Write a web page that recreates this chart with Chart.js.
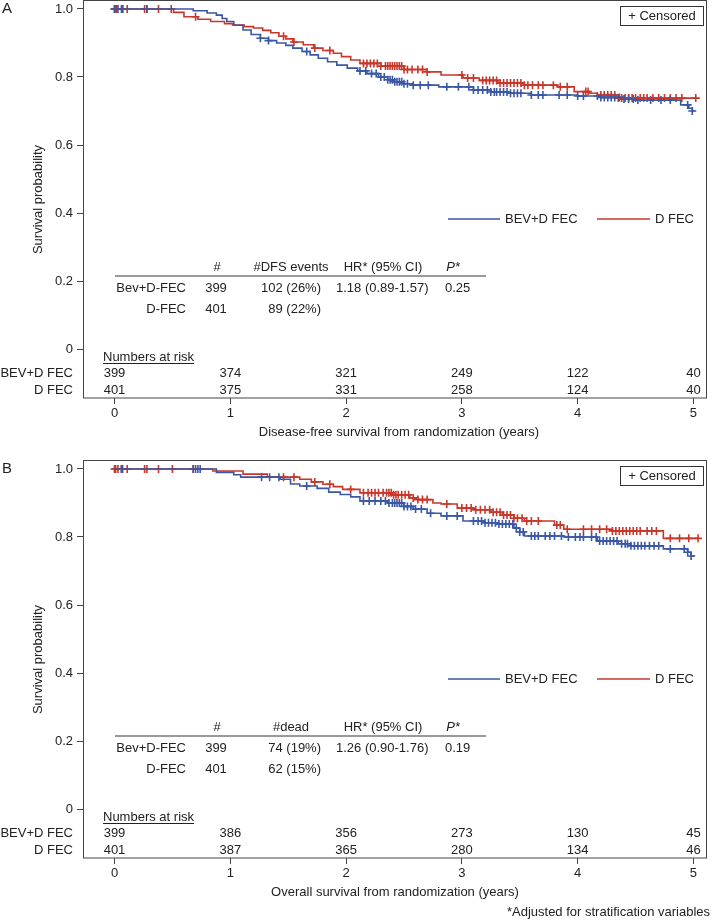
<!DOCTYPE html>
<html>
<head>
<meta charset="utf-8">
<script src="https://cdn.jsdelivr.net/npm/chart.js@4.4.1/dist/chart.umd.min.js"></script>
<style>
  body { margin: 0; background: #fff; }
  #wrap { position: relative; width: 712px; height: 922px; }
  canvas { position: absolute; left: 0; }
  .note { position: absolute; right: 2px; top: 904px; font: 13px "Liberation Sans", Arial, sans-serif; color: #222; }
</style>
</head>
<body>
<div id="wrap">
  <canvas id="chartA" width="712" height="455" style="top:0"></canvas>
  <canvas id="chartB" width="712" height="455" style="top:460px"></canvas>
  <div class="note">*Adjusted for stratification variables</div>
</div>
<script>
// Eixos
const xTicks = [0, 1, 2, 3, 4, 5]
const yTicks = [0, 0.2, 0.4, 0.6, 0.8, 1.0]
const groups = ["BEV+D FEC", "D FEC"]

// Painel A - sobrevida livre de doença (curvas KM)
const aBevT = [0, 0.68, 0.80, 0.88, 0.93, 0.97, 1.03, 1.11, 1.18, 1.26, 1.33, 1.40, 1.48, 1.54, 1.62, 1.69, 1.76, 1.84, 1.92, 2.01, 2.10, 2.18, 2.28, 2.36, 2.41, 2.50, 2.58, 2.80, 3.10, 3.25, 3.40, 3.60, 4.00, 4.20, 4.40, 4.50, 4.89, 4.96, 4.99, 5.01]
const aBevS = [1, 0.995, 0.988, 0.982, 0.972, 0.963, 0.952, 0.938, 0.925, 0.914, 0.907, 0.900, 0.893, 0.885, 0.875, 0.865, 0.855, 0.845, 0.835, 0.826, 0.818, 0.810, 0.800, 0.792, 0.786, 0.780, 0.776, 0.771, 0.762, 0.756, 0.752, 0.747, 0.744, 0.740, 0.735, 0.732, 0.718, 0.708, 0.700, 0.700]
const aDfecT = [0, 0.51, 0.60, 0.72, 0.83, 0.95, 1.02, 1.12, 1.20, 1.28, 1.35, 1.42, 1.48, 1.54, 1.63, 1.72, 1.80, 1.89, 1.96, 2.04, 2.12, 2.30, 2.50, 2.70, 2.82, 3.01, 3.15, 3.31, 3.54, 3.83, 3.97, 4.10, 4.17, 4.34, 5.04]
const aDfecS = [1, 0.99, 0.977, 0.970, 0.963, 0.957, 0.953, 0.948, 0.944, 0.937, 0.930, 0.920, 0.912, 0.903, 0.895, 0.885, 0.878, 0.870, 0.860, 0.850, 0.840, 0.832, 0.822, 0.815, 0.806, 0.797, 0.790, 0.782, 0.776, 0.771, 0.757, 0.752, 0.747, 0.738, 0.738]
const aBevCens = [0.00, 0.03, 0.06, 0.07, 0.28, 1.26, 1.33, 1.66, 2.12, 2.17, 2.22, 2.26, 2.30, 2.33, 2.36, 2.38, 2.40, 2.42, 2.44, 2.46, 2.48, 2.50, 2.53, 2.58, 2.64, 2.71, 2.87, 2.97, 3.06, 3.10, 3.14, 3.18, 3.22, 3.25, 3.28, 3.30, 3.33, 3.36, 3.39, 3.42, 3.45, 3.48, 3.51, 3.60, 3.66, 3.70, 3.84, 3.91, 4.00, 4.05, 4.17, 4.20, 4.23, 4.26, 4.29, 4.32, 4.36, 4.40, 4.44, 4.48, 4.52, 4.63, 4.72, 4.80, 4.95, 4.99]
const aDfecCens = [0.00, 0.01, 0.02, 0.07, 0.11, 0.26, 0.28, 0.38, 0.49, 0.70, 1.46, 1.55, 1.73, 1.86, 2.15, 2.18, 2.21, 2.24, 2.27, 2.30, 2.34, 2.36, 2.38, 2.40, 2.42, 2.44, 2.46, 2.48, 2.50, 2.53, 2.57, 2.62, 2.66, 2.70, 3.00, 3.05, 3.10, 3.18, 3.21, 3.24, 3.27, 3.30, 3.33, 3.36, 3.39, 3.42, 3.45, 3.48, 3.51, 3.54, 3.57, 3.61, 3.66, 3.70, 3.79, 3.85, 3.91, 4.07, 4.09, 4.20, 4.23, 4.26, 4.29, 4.32, 4.35, 4.38, 4.41, 4.44, 4.47, 4.50, 4.54, 4.57, 4.60, 4.65, 4.70, 4.75, 4.80, 4.85, 4.90, 5.02]
const aRiskBev = [399, 374, 321, 249, 122, 40]
const aRiskDfec = [401, 375, 331, 258, 124, 40]
const aStatsHead = ["#", "#DFS events", "HR* (95% CI)", "P*"]
const aStatsBev = ["Bev+D-FEC", "399", "102 (26%)", "1.18 (0.89-1.57)", "0.25"]
const aStatsDfec = ["D-FEC", "401", "89 (22%)", "", ""]

// Painel B - sobrevida global
const bBevT = [0, 0.88, 1.03, 1.09, 1.43, 1.52, 1.60, 1.75, 1.85, 1.95, 2.04, 2.12, 2.36, 2.50, 2.58, 2.70, 2.82, 3.01, 3.19, 3.31, 3.45, 3.50, 3.54, 3.88, 4.17, 4.35, 4.46, 4.74, 4.95, 4.98, 5.01]
const bBevS = [1, 0.99, 0.983, 0.976, 0.970, 0.956, 0.950, 0.943, 0.932, 0.925, 0.918, 0.906, 0.900, 0.890, 0.882, 0.870, 0.862, 0.847, 0.842, 0.838, 0.826, 0.815, 0.803, 0.800, 0.788, 0.780, 0.774, 0.765, 0.755, 0.744, 0.744]
const bDfecT = [0, 0.85, 1.11, 1.32, 1.60, 1.70, 1.80, 1.89, 1.97, 2.12, 2.41, 2.55, 2.62, 2.75, 2.82, 2.96, 3.10, 3.25, 3.35, 3.45, 3.54, 3.80, 3.88, 4.30, 4.74, 5.04]
const bDfecS = [1, 0.994, 0.985, 0.976, 0.970, 0.962, 0.955, 0.948, 0.940, 0.930, 0.924, 0.915, 0.910, 0.900, 0.897, 0.885, 0.880, 0.873, 0.865, 0.855, 0.847, 0.835, 0.823, 0.818, 0.796, 0.796]
const bBevCens = [0.06, 0.07, 0.68, 0.70, 0.72, 0.74, 1.27, 1.34, 1.42, 1.66, 2.15, 2.20, 2.25, 2.30, 2.34, 2.37, 2.40, 2.42, 2.44, 2.46, 2.48, 2.50, 2.53, 2.56, 2.60, 2.65, 2.73, 2.87, 2.96, 3.10, 3.14, 3.17, 3.20, 3.23, 3.26, 3.29, 3.32, 3.35, 3.38, 3.41, 3.44, 3.47, 3.50, 3.53, 3.60, 3.63, 3.66, 3.72, 3.76, 3.80, 3.86, 3.92, 3.98, 4.02, 4.05, 4.12, 4.16, 4.19, 4.22, 4.25, 4.28, 4.31, 4.34, 4.38, 4.41, 4.43, 4.46, 4.49, 4.52, 4.55, 4.58, 4.62, 4.66, 4.70, 4.80, 4.92, 4.95, 4.98]
const bDfecCens = [0.00, 0.01, 0.03, 0.06, 0.11, 0.26, 0.28, 0.38, 0.50, 0.68, 1.46, 1.55, 1.73, 1.86, 2.04, 2.15, 2.19, 2.22, 2.25, 2.28, 2.32, 2.35, 2.37, 2.39, 2.41, 2.43, 2.45, 2.48, 2.51, 2.54, 2.58, 2.62, 2.66, 2.70, 2.87, 3.00, 3.04, 3.08, 3.12, 3.16, 3.20, 3.24, 3.27, 3.30, 3.33, 3.36, 3.39, 3.42, 3.45, 3.48, 3.52, 3.56, 3.60, 3.66, 3.82, 3.85, 3.91, 4.05, 4.12, 4.19, 4.25, 4.30, 4.33, 4.36, 4.39, 4.42, 4.45, 4.48, 4.51, 4.54, 4.60, 4.64, 4.68, 4.80, 4.88, 4.96, 5.04]
const bRiskBev = [399, 386, 356, 273, 130, 45]
const bRiskDfec = [401, 387, 365, 280, 134, 46]
const bStatsHead = ["#", "#dead", "HR* (95% CI)", "P*"]
const bStatsBev = ["Bev+D-FEC", "399", "74 (19%)", "1.26 (0.90-1.76)", "0.19"]
const bStatsDfec = ["D-FEC", "401", "62 (15%)", "", ""]

const BLUE = "#3a57a4"
const RED = "#c8372b"
const INK = "#222"
const FONT = '"Liberation Sans", Arial, Helvetica, sans-serif'

// valor da curva KM num instante (para pôr as marcas de censura em cima da curva)
function survAt(times, surv, t) {
    let s = surv[0]
    for (let i = 0; i < times.length; i++) {
        if (times[i] <= t) s = surv[i]
    }
    return s
}

function curve(times, surv) {
    return times.map((t, i) => ({ x: t, y: surv[i] }))
}

function cens(list, times, surv) {
    return list.map(t => ({ x: t, y: survAt(times, surv, t) }))
}

function txt(ctx, s, x, y, align, font) {
    ctx.font = font || ("13px " + FONT)
    ctx.textAlign = align || "left"
    ctx.textBaseline = "middle"
    ctx.fillText(s, x, y)
}

function makeDecor(p) {
    return {
        id: "decor" + p.letter,
        afterDraw(chart) {
            const ctx = chart.ctx
            const a = chart.chartArea
            const xs = chart.scales.x
            ctx.save()
            ctx.fillStyle = INK

            // moldura
            ctx.strokeStyle = "#444"
            ctx.lineWidth = 1
            ctx.strokeRect(a.left + 0.5, a.top - 0.5, a.right - a.left - 1, a.bottom - a.top + 0.5)

            // letra do painel e títulos
            txt(ctx, p.letter, 2, a.top + 8, "left", "15px " + FONT)
            ctx.save()
            ctx.translate(38, (a.top + a.bottom) / 2)
            ctx.rotate(-Math.PI / 2)
            txt(ctx, "Survival probability", 0, 0, "center")
            ctx.restore()
            txt(ctx, p.xTitle, (a.left + a.right) / 2 + p.titleShift, a.bottom + 34, "center")

            // caixa "+ Censored"
            ctx.strokeStyle = "#333"
            ctx.strokeRect(620.5, a.top + 5.5, 83, 19)
            txt(ctx, "+ Censored", 662, a.top + 15.5, "center")

            // legenda das séries
            const ly = a.top + 218
            ctx.lineWidth = 1.3
            ctx.strokeStyle = BLUE
            ctx.beginPath(); ctx.moveTo(448, ly); ctx.lineTo(500, ly); ctx.stroke()
            txt(ctx, groups[0], 505, ly)
            ctx.strokeStyle = RED
            ctx.beginPath(); ctx.moveTo(597, ly); ctx.lineTo(650, ly); ctx.stroke()
            txt(ctx, groups[1], 655, ly)

            // tabela de HR
            const hy = a.top + 266
            txt(ctx, p.head[0], 217, hy, "center")
            txt(ctx, p.head[1], 291, hy, "center")
            txt(ctx, p.head[2], 383, hy, "center")
            txt(ctx, p.head[3], 453, hy, "center", "italic 13px " + FONT)
            ctx.strokeStyle = "#777"
            ctx.lineWidth = 1.5
            ctx.beginPath(); ctx.moveTo(115, a.top + 275); ctx.lineTo(486, a.top + 275); ctx.stroke()
            ;[p.row1, p.row2].forEach((r, i) => {
                const y = a.top + 287 + i * 21
                txt(ctx, r[0], 186, y, "right")
                txt(ctx, r[1], 216, y, "center")
                txt(ctx, r[2], 321, y, "right")
                txt(ctx, r[3], 336, y)
                txt(ctx, r[4], 445, y)
            })

            // números em risco
            const ny = a.bottom - 41
            txt(ctx, "Numbers at risk", 103, ny)
            const w = ctx.measureText("Numbers at risk").width
            ctx.strokeStyle = INK
            ctx.lineWidth = 1
            ctx.beginPath(); ctx.moveTo(103, ny + 6.5); ctx.lineTo(103 + w, ny + 6.5); ctx.stroke()
            ;[p.risk1, p.risk2].forEach((r, i) => {
                const y = a.bottom - 25 + i * 17
                txt(ctx, groups[i], 73, y, "right")
                r.forEach((n, k) => txt(ctx, String(n), xs.getPixelForValue(xTicks[k]), y, "center"))
            })
            ctx.restore()
        }
    }
}

function drawPanel(id, p) {
    new Chart(document.getElementById(id), {
        type: "scatter",
        data: {
            datasets: [
                { data: curve(p.bevT, p.bevS), showLine: true, stepped: true, borderColor: BLUE, borderWidth: 1.6, pointRadius: 0 },
                { data: curve(p.dfecT, p.dfecS), showLine: true, stepped: true, borderColor: RED, borderWidth: 1.6, pointRadius: 0 },
                { data: cens(p.bevCens, p.bevT, p.bevS), pointStyle: "cross", pointRadius: 4, borderColor: BLUE, borderWidth: 1.6 },
                { data: cens(p.dfecCens, p.dfecT, p.dfecS), pointStyle: "cross", pointRadius: 4, borderColor: RED, borderWidth: 1.6 }
            ]
        },
        options: {
            responsive: false,
            animation: false,
            layout: { autoPadding: false, padding: { top: 1, right: 5, left: 0, bottom: 0 } },
            plugins: { legend: { display: false }, tooltip: { enabled: false } },
            scales: {
                x: {
                    type: "linear",
                    min: -0.272,
                    max: 5.117,
                    afterBuildTicks: s => { s.ticks = xTicks.map(v => ({ value: v })) },
                    afterFit: s => { s.height = 455 - 398; s.paddingLeft = 0; s.paddingRight = 0 },
                    border: { display: false },
                    grid: { drawOnChartArea: false, drawTicks: true, tickLength: 6, color: "#444" },
                    ticks: { font: { size: 13, family: FONT }, color: INK, padding: 2, maxRotation: 0 }
                },
                y: {
                    min: -0.144,
                    max: 1.0235,
                    afterBuildTicks: s => { s.ticks = yTicks.map(v => ({ value: v })) },
                    afterFit: s => { s.width = 83; s.paddingTop = 0; s.paddingBottom = 0 },
                    border: { display: false },
                    grid: { drawOnChartArea: false, drawTicks: true, tickLength: 6, color: "#444" },
                    ticks: {
                        font: { size: 13, family: FONT },
                        color: INK,
                        padding: 4,
                        callback: v => v === 0 ? "0" : v.toFixed(1)
                    }
                }
            }
        },
        plugins: [makeDecor(p)]
    })
}

drawPanel("chartA", {
    letter: "A", xTitle: "Disease-free survival from randomization (years)", titleShift: 4,
    bevT: aBevT, bevS: aBevS, dfecT: aDfecT, dfecS: aDfecS,
    bevCens: aBevCens, dfecCens: aDfecCens,
    head: aStatsHead, row1: aStatsBev, row2: aStatsDfec,
    risk1: aRiskBev, risk2: aRiskDfec
})

drawPanel("chartB", {
    letter: "B", xTitle: "Overall survival from randomization (years)", titleShift: 0,
    bevT: bBevT, bevS: bBevS, dfecT: bDfecT, dfecS: bDfecS,
    bevCens: bBevCens, dfecCens: bDfecCens,
    head: bStatsHead, row1: bStatsBev, row2: bStatsDfec,
    risk1: bRiskBev, risk2: bRiskDfec
})
</script>
</body>
</html>
